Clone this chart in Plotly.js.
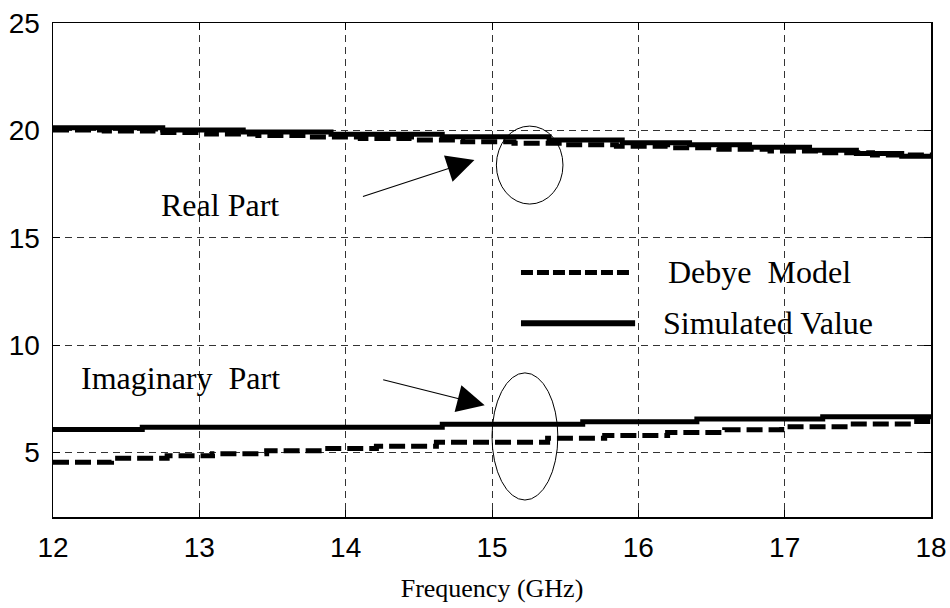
<!DOCTYPE html>
<html>
<head>
<meta charset="utf-8">
<script src="https://cdn.plot.ly/plotly-3.0.1.min.js"></script>
<style>html,body{margin:0;padding:0;background:#fff;}#chart{width:950px;height:608px;}</style>
</head>
<body>
<div id="chart"></div>
<script>
// Real part – simulated value (solid)
const freqRealSim = [12, 12.75, 13.3, 13.9, 14.66, 15.39, 15.89, 16.35, 16.76, 17.17, 17.49, 17.8, 18];
const realSim     = [20.12, 20.02, 19.92, 19.82, 19.7, 19.55, 19.43, 19.33, 19.22, 19.08, 18.92, 18.8, 18.8];
// Real part – Debye model (dashed)
const freqRealDebye = [12, 12.35, 12.7, 13.05, 13.4, 13.75, 14.1, 14.45, 14.8, 15.15, 15.5, 15.85, 16.2, 16.55, 16.9, 17.25, 17.6, 18];
const realDebye     = [20.02, 19.97, 19.9, 19.83, 19.76, 19.69, 19.62, 19.55, 19.47, 19.4, 19.33, 19.26, 19.19, 19.12, 19.04, 18.96, 18.85, 18.8];
// Imaginary part – simulated value (solid)
const freqImagSim = [12, 12.61, 14.66, 15.62, 16.4, 17.26, 18];
const imagSim     = [6.07, 6.18, 6.32, 6.44, 6.56, 6.67, 6.67];
// Imaginary part – Debye model (dashed)
const freqImagDebye = [12, 12.4, 12.78, 13.09, 13.46, 13.84, 14.21, 14.62, 15.38, 15.77, 16.2, 16.59, 16.98, 17.44, 17.88, 18];
const imagDebye     = [4.55, 4.73, 4.85, 4.95, 5.08, 5.19, 5.29, 5.48, 5.67, 5.79, 5.93, 6.06, 6.2, 6.33, 6.45, 6.45];

const xTicks = [12, 13, 14, 15, 16, 17, 18];
const yTicks = [5, 10, 15, 20, 25];
const legendLabels = ['Debye  Model', 'Simulated Value'];
const partLabels = ['Real Part', 'Imaginary  Part'];

const serif = 'Liberation Serif, Times New Roman, serif';
const sans = 'Liberation Sans, Arial, sans-serif';

const solid = {color: '#000', width: 5, shape: 'hv'};
const dashed = {color: '#000', width: 5, dash: '16px,6px', shape: 'hv'};

const traces = [
  {x: freqRealDebye, y: realDebye, mode: 'lines', line: dashed, name: legendLabels[0]},
  {x: freqRealSim, y: realSim, mode: 'lines', line: solid, name: legendLabels[1]},
  {x: freqImagDebye, y: imagDebye, mode: 'lines', line: dashed, name: legendLabels[0]},
  {x: freqImagSim, y: imagSim, mode: 'lines', line: solid, name: legendLabels[1]}
];

const axisCommon = {
  showline: true, mirror: 'ticks', linecolor: '#000', linewidth: 1.5,
  ticks: 'inside', ticklen: 7, tickcolor: '#000', tickwidth: 1,
  showgrid: true, gridcolor: '#333', gridwidth: 1, griddash: '7px,5px',
  zeroline: false, tickfont: {family: sans, size: 28, color: '#000'}
};

const layout = {
  width: 950, height: 608,
  margin: {l: 53, r: 19, t: 23, b: 91},
  paper_bgcolor: '#fff', plot_bgcolor: '#fff',
  showlegend: false,
  xaxis: Object.assign({}, axisCommon, {
    range: [12, 18], tickvals: xTicks, ticktext: xTicks.map(String),
    ticklabelstandoff: 5,
    title: {text: 'Frequency (GHz)', font: {family: serif, size: 26, color: '#000'}, standoff: 16}
  }),
  yaxis: Object.assign({}, axisCommon, {
    range: [2, 25], tickvals: yTicks, ticktext: yTicks.map(String),
    ticklabelstandoff: 6
  }),
  shapes: [
    {type: 'circle', xref: 'x', yref: 'y', x0: 15.03, x1: 15.485, y0: 16.57, y1: 20.2, line: {color: '#000', width: 1}},
    {type: 'circle', xref: 'x', yref: 'y', x0: 15.0, x1: 15.45, y0: 2.79, y1: 8.71, line: {color: '#000', width: 1}},
    {type: 'line', xref: 'paper', yref: 'paper', x0: 0.533, x1: 0.66, y0: 0.495, y1: 0.495, line: {color: '#000', width: 5, dash: '12px,4px'}},
    {type: 'line', xref: 'paper', yref: 'paper', x0: 0.533, x1: 0.663, y0: 0.392, y1: 0.392, line: {color: '#000', width: 6}}
  ],
  annotations: [
    {x: 13.14, y: 16.53, xref: 'x', yref: 'y', text: partLabels[0], showarrow: false, font: {family: serif, size: 32, color: '#000'}},
    {x: 12.87, y: 8.47, xref: 'x', yref: 'y', text: partLabels[1], showarrow: false, font: {family: serif, size: 32, color: '#000'}},
    {x: 14.88, y: 18.62, xref: 'x', yref: 'y', ax: -113, ay: 37, text: '', showarrow: true, arrowhead: 2, arrowsize: 5, arrowwidth: 1.1, arrowcolor: '#000'},
    {x: 14.95, y: 7.2, xref: 'x', yref: 'y', ax: -103, ay: -26, text: '', showarrow: true, arrowhead: 2, arrowsize: 5, arrowwidth: 1.1, arrowcolor: '#000'},
    {x: 0.698, y: 0.495, xref: 'paper', yref: 'paper', xanchor: 'left', text: legendLabels[0], showarrow: false, font: {family: serif, size: 32, color: '#000'}},
    {x: 0.693, y: 0.392, xref: 'paper', yref: 'paper', xanchor: 'left', text: legendLabels[1], showarrow: false, font: {family: serif, size: 32, color: '#000'}}
  ]
};

Plotly.newPlot('chart', traces, layout, {staticPlot: true, displayModeBar: false});
</script>
</body>
</html>
